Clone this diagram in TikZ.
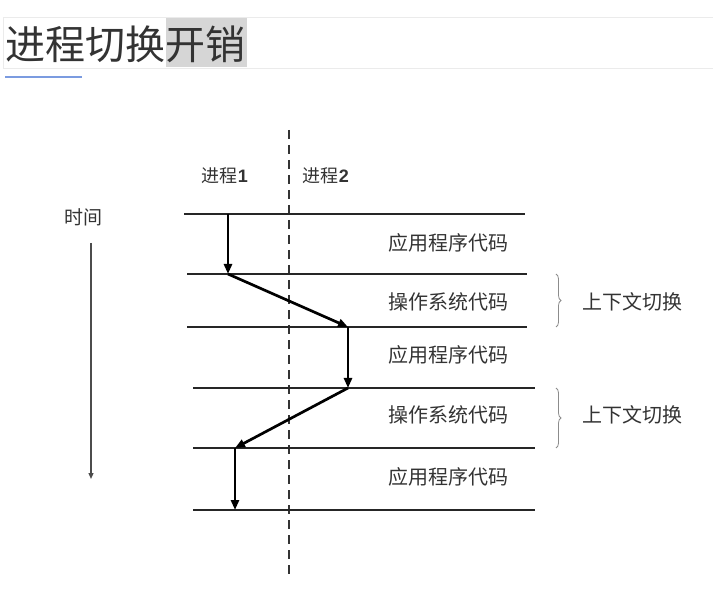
\documentclass[tikz,border=0pt]{standalone}
\usepackage{fontspec}
\setmainfont{Noto Sans CJK SC}
\newfontfamily\digitfont{Liberation Sans}
\usetikzlibrary{arrows.meta,decorations.pathreplacing}
\definecolor{txt}{HTML}{333333}
\definecolor{uline}{HTML}{7B9BE0}
\tikzset{
  rowline/.style={line width=1.6pt, draw=black!85},
  flow/.style={line width=2.7pt, -{Triangle[length=10pt,width=8pt]}},
  lbl/.style={font=\fontsize{20}{20}\selectfont, text=txt, inner sep=0pt},
  hdr/.style={font=\fontsize{18}{18}\selectfont, text=txt, inner sep=0pt},
  bracestyle/.style={draw=black!45, line width=0.8pt, decorate, decoration={brace, amplitude=5pt}},
}
\begin{document}
\begin{tikzpicture}[x=1pt,y=-1pt]
\useasboundingbox (0,0) rectangle (713,604);
% title
\draw[black!8, line width=0.8pt] (713,17) -- (3,17) -- (3,68) -- (713,68);
\fill[black!16] (166,18) rectangle (247,67);
\node[anchor=west, inner sep=0pt, font=\fontsize{40}{40}\selectfont, text=txt] (title) at (5,44) {进程切换开销};
\draw[uline, line width=2pt] (5,77) -- (82,77);
% dashed divider
\coordinate (dtop) at (289,130);
\coordinate (dbot) at (289,578);
\draw[black!80, line width=1.2pt, dash pattern=on 9pt off 6pt] (dtop) -- (dbot);
% headers
\node[hdr] (p1) at (225,176) {进程{\digitfont\bfseries 1}};
\node[hdr] (p2) at (326,176) {进程{\digitfont\bfseries 2}};
% time
\node[lbl, font=\fontsize{19}{19}\selectfont] (time) at (83,217) {时间};
\coordinate (t1) at (91,243);
\coordinate (t2) at (91,479);
\draw[black!70, line width=1.3pt, -{Triangle[length=6pt,width=5pt]}] (t1) -- (t2);
% row lines
\coordinate (l1a) at (184,214); \coordinate (l1b) at (525,214);
\coordinate (l2a) at (187,274); \coordinate (l2b) at (527,274);
\coordinate (l3a) at (187,327); \coordinate (l3b) at (527,327);
\coordinate (l4a) at (193,388); \coordinate (l4b) at (535,388);
\coordinate (l5a) at (193,448); \coordinate (l5b) at (535,448);
\coordinate (l6a) at (193,510); \coordinate (l6b) at (535,510);
\foreach \i in {1,...,6} { \draw[rowline] (l\i a) -- (l\i b); }
% row labels
\node[lbl] (r1) at (448,243) {应用程序代码};
\node[lbl] (r2) at (448,302) {操作系统代码};
\node[lbl] (r3) at (448,355) {应用程序代码};
\node[lbl] (r4) at (448,415) {操作系统代码};
\node[lbl] (r5) at (448,477) {应用程序代码};
% flow
\coordinate (a0) at (228,214);
\coordinate (a1) at (228,274);
\coordinate (a2) at (348,327);
\coordinate (a3) at (348,388);
\coordinate (a4) at (235,448);
\coordinate (a5) at (235,510);
\draw[flow] (a0) -- (a1);
\draw[flow] (a1) -- (a2);
\draw[flow] (a2) -- (a3);
\draw[flow] (a3) -- (a4);
\draw[flow] (a4) -- (a5);
% braces
\coordinate (b1a) at (556,274); \coordinate (b1b) at (556,327);
\coordinate (b2a) at (556,388); \coordinate (b2b) at (556,448);
\draw[bracestyle] (b1a) -- (b1b);
\draw[bracestyle] (b2a) -- (b2b);
\node[lbl] (c1) at (632,302) {上下文切换};
\node[lbl] (c2) at (632,415) {上下文切换};
\end{tikzpicture}
\end{document}
